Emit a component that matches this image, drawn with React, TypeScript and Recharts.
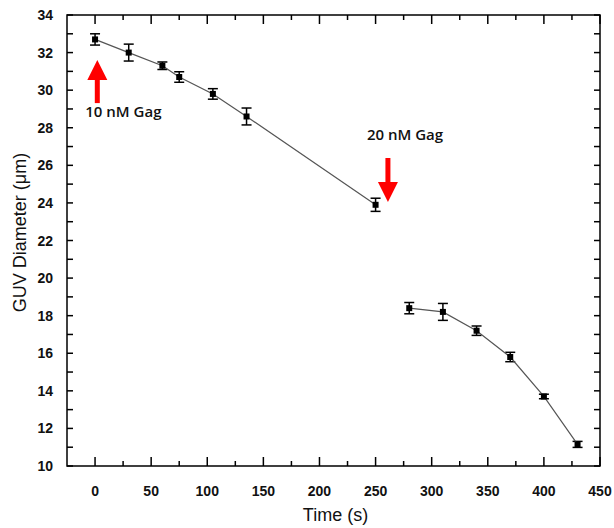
import {
  ComposedChart,
  Scatter,
  XAxis,
  YAxis,
  ErrorBar,
  ReferenceArea,
  ReferenceDot,
  Label,
} from "recharts";

// time (s), diameter (um), error (um) -- before and after the 20 nM addition
const time1 = [0, 30, 60, 75, 105, 135, 250];
const diam1 = [32.7, 32.0, 31.3, 30.7, 29.8, 28.6, 23.9];
const err1 = [0.3, 0.45, 0.2, 0.28, 0.28, 0.45, 0.35];

const time2 = [280, 310, 340, 370, 400, 430];
const diam2 = [18.4, 18.2, 17.2, 15.8, 13.7, 11.15];
const err2 = [0.3, 0.45, 0.25, 0.25, 0.12, 0.16];

const xTicks = [0, 25, 50, 75, 100, 125, 150, 175, 200, 225, 250, 275, 300, 325, 350, 375, 400, 425, 450];
const yTicks = [10, 11, 12, 13, 14, 15, 16, 17, 18, 19, 20, 21, 22, 23, 24, 25, 26, 27, 28, 29, 30, 31, 32, 33, 34];

const seg1 = time1.map((t, i) => ({ t, d: diam1[i], e: err1[i] }));
const seg2 = time2.map((t, i) => ({ t, d: diam2[i], e: err2[i] }));

const W = 614;
const H = 528;
const MARGIN = { top: 15, right: 14, bottom: 0, left: 0 };
const PLOT_TOP = MARGIN.top;
const PLOT_RIGHT = W - MARGIN.right;

const numFont = { fontFamily: "'Liberation Sans', Arial, sans-serif", fontSize: 14, fontWeight: 700 };
const noteFont = { fontFamily: "'Open Sans', sans-serif", fontSize: 15, fontWeight: 600 };

function XTick(props: any) {
  const { x, y, payload } = props;
  const major = payload.value % 50 === 0;
  const len = major ? 9 : 5;
  return (
    <g>
      <line x1={x} y1={y} x2={x} y2={y - len} stroke="#000" strokeWidth={1.5} />
      <line x1={x} y1={PLOT_TOP} x2={x} y2={PLOT_TOP + len} stroke="#000" strokeWidth={1.5} />
      {major && (
        <text x={x} y={y + 30} textAnchor="middle" fill="#111" style={numFont}>
          {payload.value}
        </text>
      )}
    </g>
  );
}

function YTick(props: any) {
  const { x, y, payload } = props;
  const major = payload.value % 2 === 0;
  const len = 6;
  return (
    <g>
      <line x1={x} y1={y} x2={x + len} y2={y} stroke="#000" strokeWidth={1.5} />
      <line x1={PLOT_RIGHT - len} y1={y} x2={PLOT_RIGHT} y2={y} stroke="#000" strokeWidth={1.5} />
      {major && (
        <text x={x - 14} y={y + 5} textAnchor="end" fill="#111" style={numFont}>
          {payload.value}
        </text>
      )}
    </g>
  );
}

const Square = (props: any) => (
  <rect x={props.cx - 3} y={props.cy - 3} width={6} height={6} fill="#000" />
);

// arrow pointing up, cx/cy = tip
const UpArrow = (props: any) => {
  const { cx, cy } = props;
  return (
    <g>
      <line x1={cx} y1={cy + 16} x2={cx} y2={cy + 43} stroke="#f00" strokeWidth={5} />
      <polygon points={`${cx},${cy} ${cx - 10},${cy + 20} ${cx + 10},${cy + 20}`} fill="#f00" />
      <text x={cx - 12} y={cy + 57} fill="#111" style={noteFont}>
        10 nM Gag
      </text>
    </g>
  );
};

// arrow pointing down, cx/cy = tip
const DownArrow = (props: any) => {
  const { cx, cy } = props;
  return (
    <g>
      <line x1={cx} y1={cy - 44} x2={cx} y2={cy - 16} stroke="#f00" strokeWidth={5} />
      <polygon points={`${cx},${cy} ${cx - 10},${cy - 20} ${cx + 10},${cy - 20}`} fill="#f00" />
      <text x={cx - 21} y={cy - 62} fill="#111" style={noteFont}>
        20 nM Gag
      </text>
    </g>
  );
};

const YLabel = (props: any) => {
  const { viewBox } = props;
  const cx = viewBox.x + 26;
  const cy = viewBox.y + viewBox.height / 2 - 8;
  return (
    <text
      x={cx}
      y={cy}
      transform={`rotate(-90 ${cx} ${cy})`}
      textAnchor="middle"
      fill="#111"
      style={{ fontFamily: "'Liberation Sans', Arial, sans-serif", fontSize: 18 }}
    >
      GUV Diameter (μm)
    </text>
  );
};

const XLabel = (props: any) => {
  const { viewBox } = props;
  return (
    <text
      x={viewBox.x + viewBox.width / 2 + 2}
      y={viewBox.y + 55}
      textAnchor="middle"
      fill="#111"
      style={{ fontFamily: "'Liberation Sans', Arial, sans-serif", fontSize: 18 }}
    >
      Time (s)
    </text>
  );
};

export default function App() {
  return (
    <div style={{ position: "absolute", left: 0, top: 0, width: W, height: H, background: "#fff" }}>
      <ComposedChart width={W} height={H} margin={MARGIN}>
        <XAxis
          dataKey="t"
          type="number"
          domain={[-25, 450]}
          ticks={xTicks}
          interval={0}
          allowDataOverflow
          height={62}
          axisLine={false}
          tickLine={false}
          tickSize={0}
          tickMargin={0}
          tick={XTick}
        >
          <Label content={XLabel} />
        </XAxis>
        <YAxis
          dataKey="d"
          type="number"
          domain={[10, 34]}
          ticks={yTicks}
          interval={0}
          allowDataOverflow
          width={67}
          axisLine={false}
          tickLine={false}
          tickSize={0}
          tickMargin={0}
          tick={YTick}
        >
          <Label content={YLabel} />
        </YAxis>
        <ReferenceArea
          x1={-25}
          x2={450}
          y1={10}
          y2={34}
          fill="none"
          fillOpacity={0}
          stroke="#000"
          strokeWidth={1.5}
          ifOverflow="visible"
        />
        <Scatter
          data={seg1}
          dataKey="d"
          line={{ stroke: "#555", strokeWidth: 1.2 }}
          shape={Square}
          isAnimationActive={false}
        >
          <ErrorBar dataKey="e" direction="y" width={5} stroke="#000" strokeWidth={1.5} />
        </Scatter>
        <Scatter
          data={seg2}
          dataKey="d"
          line={{ stroke: "#555", strokeWidth: 1.2 }}
          shape={Square}
          isAnimationActive={false}
        >
          <ErrorBar dataKey="e" direction="y" width={5} stroke="#000" strokeWidth={1.5} />
        </Scatter>
        <ReferenceDot x={2} y={31.6} shape={UpArrow} ifOverflow="visible" />
        <ReferenceDot x={261} y={24.05} shape={DownArrow} ifOverflow="visible" />
      </ComposedChart>
    </div>
  );
}
